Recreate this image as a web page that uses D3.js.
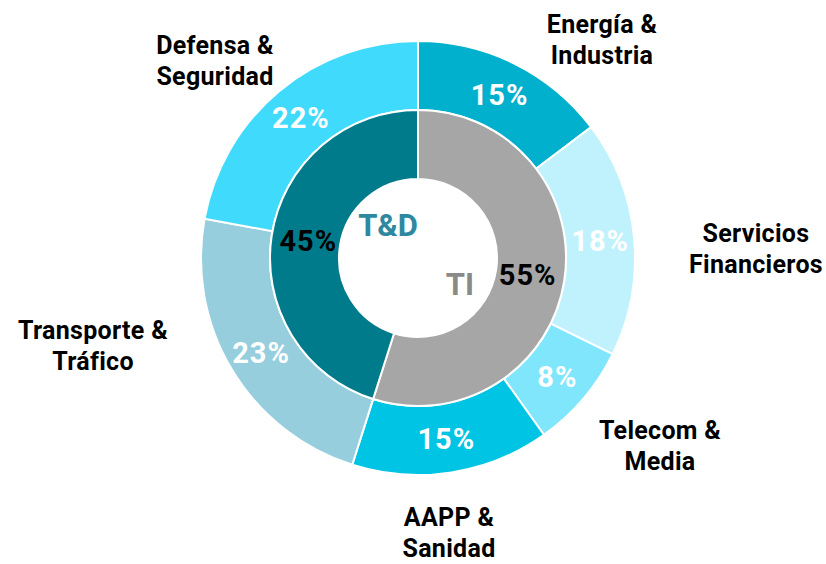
<!DOCTYPE html>
<html>
<head>
<meta charset="utf-8">
<script src="https://cdn.jsdelivr.net/npm/d3@7"></script>
<style>
  body { margin: 0; background: #fff; }
  svg { display: block; font-family: Roboto, "DejaVu Sans", sans-serif; }
</style>
</head>
<body>
<div id="chart"></div>
<script>
// outer ring: sectors
const sectors = ["Energía & Industria", "Servicios Financieros", "Telecom & Media", "AAPP & Sanidad", "Transporte & Tráfico", "Defensa & Seguridad"];
const sectorLines = [["Energía &", "Industria"], ["Servicios", "Financieros"], ["Telecom &", "Media"], ["AAPP &", "Sanidad"], ["Transporte &", "Tráfico"], ["Defensa &", "Seguridad"]];
const sectorValues = [14.7, 17.6, 7.85, 14.75, 23.0, 22.1];
const sectorLabels = ["15%", "18%", "8%", "15%", "23%", "22%"];
const sectorColors = ["#00b0cc", "#c0f2fe", "#80e6fc", "#00c4e4", "#96cede", "#40dafc"];

// inner ring: business areas
const areas = ["TI", "T&D"];
const areaValues = [54.9, 45.1];
const areaLabels = ["55%", "45%"];
const areaColors = ["#a6a6a6", "#007b8c"];

// where the category names sit (centre of first line)
const sectorTextPos = [[602, 24], [756, 233], [660, 430], [449, 517], [93, 330], [215, 45]];

function renderChart() {
    const width = 826, height = 564;
    const cx = 418, cy = 258;

    const svg = d3.select("#chart").append("svg")
        .attr("width", width)
        .attr("height", height);

    const g = svg.append("g").attr("transform", `translate(${cx},${cy})`);

    const pie = d3.pie().sort(null).value(d => d);

    const outerArc = d3.arc().innerRadius(148).outerRadius(217);
    const outerLabelArc = d3.arc().innerRadius(183).outerRadius(183);
    const innerArc = d3.arc().innerRadius(79).outerRadius(148);
    const innerLabelArc = d3.arc().innerRadius(111).outerRadius(111);

    const outerData = pie(sectorValues);
    const innerData = pie(areaValues);

    // outer ring
    g.append("g").selectAll("path")
        .data(outerData)
        .enter().append("path")
        .attr("d", outerArc)
        .attr("fill", (d, i) => sectorColors[i])
        .attr("stroke", "#fff")
        .attr("stroke-width", 2);

    // inner ring
    g.append("g").selectAll("path")
        .data(innerData)
        .enter().append("path")
        .attr("d", innerArc)
        .attr("fill", (d, i) => areaColors[i])
        .attr("stroke", "#fff")
        .attr("stroke-width", 2);

    // outer percentages
    g.append("g").selectAll("text")
        .data(outerData)
        .enter().append("text")
        .attr("transform", d => `translate(${outerLabelArc.centroid(d)})`)
        .attr("text-anchor", "middle")
        .attr("dy", "0.36em")
        .style("font-size", "29px")
        .style("font-weight", "bold")
        .style("letter-spacing", "1px")
        .attr("fill", "#fff")
        .text((d, i) => sectorLabels[i]);

    // inner percentages
    g.append("g").selectAll("text")
        .data(innerData)
        .enter().append("text")
        .attr("transform", d => `translate(${innerLabelArc.centroid(d)})`)
        .attr("text-anchor", "middle")
        .attr("dy", "0.36em")
        .style("font-size", "29px")
        .style("font-weight", "bold")
        .style("letter-spacing", "1px")
        .attr("fill", "#000")
        .text((d, i) => areaLabels[i]);

    // area names in the hole
    svg.append("text")
        .attr("x", 388).attr("y", 225).attr("dy", "0.36em")
        .attr("text-anchor", "middle")
        .style("font-size", "31px").style("font-weight", "bold")
        .attr("fill", "#2e89a0")
        .text(areas[1]);

    svg.append("text")
        .attr("x", 460).attr("y", 284).attr("dy", "0.36em")
        .attr("text-anchor", "middle")
        .style("font-size", "31px").style("font-weight", "bold")
        .attr("fill", "#8a8a8a")
        .text(areas[0]);

    // category names
    sectorLines.forEach((lines, i) => {
        const t = svg.append("text")
            .attr("text-anchor", "middle")
            .style("font-size", "25px")
            .style("font-weight", "bold")
            .style("letter-spacing", "0.3px")
            .attr("fill", "#000");
        lines.forEach((line, j) => {
            t.append("tspan")
                .attr("x", sectorTextPos[i][0])
                .attr("y", sectorTextPos[i][1] + j * 31)
                .attr("dy", "0.36em")
                .text(line);
        });
    });
}

renderChart();
</script>
</body>
</html>
